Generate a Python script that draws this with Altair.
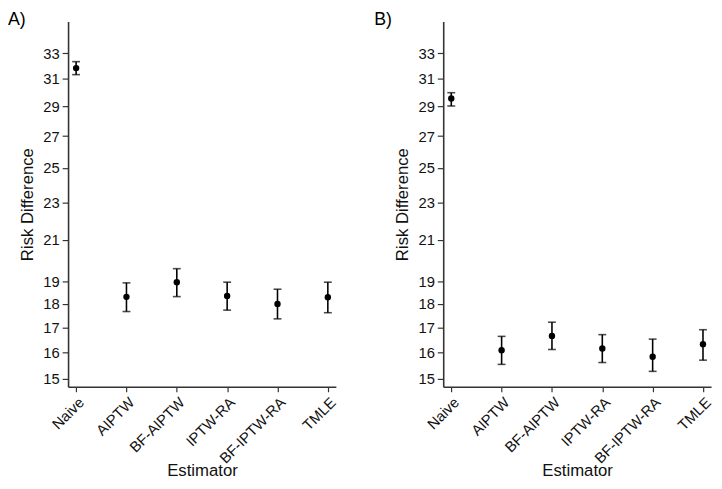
import altair as alt
import pandas as pd

estimators = ["Naive", "AIPTW", "BF-AIPTW", "IPTW-RA", "BF-IPTW-RA", "TMLE"]

a_est = [31.83, 18.30, 18.96, 18.34, 17.99, 18.28]
a_low = [31.33, 17.66, 18.31, 17.72, 17.35, 17.61]
a_high = [32.33, 18.93, 19.59, 18.96, 18.64, 18.96]

b_est = [29.57, 16.08, 16.65, 16.15, 15.83, 16.32]
b_low = [29.04, 15.54, 16.11, 15.61, 15.28, 15.70]
b_high = [29.99, 16.63, 17.21, 16.70, 16.52, 16.90]

y_ticks = [15, 16, 17, 18, 19, 21, 23, 25, 27, 29, 31, 33]
y_domain = [14.72, 35.63]

FONT = "Liberation Sans"
W, H = 272, 371


def panel(est, low, high, label, label_dx):
    df = pd.DataFrame({"Estimator": estimators, "est": est, "low": low, "high": high})
    x = alt.X(
        "Estimator:N",
        sort=estimators,
        scale=alt.Scale(type="point", padding=0.16),
        axis=alt.Axis(
            labelAngle=-45,
            title="Estimator",
            titleY=90,
            titleBaseline="alphabetic",
            labelPadding=3,
        ),
    )
    y_scale = alt.Scale(type="log", domain=y_domain, nice=False)
    y_axis = alt.Axis(
        values=y_ticks,
        title="Risk Difference",
        titleX=-36,
        titleY=H / 2,
        titleAlign="center",
        titleBaseline="alphabetic",
        labelPadding=3,
        tickSize=6,
    )
    base = alt.Chart(df)
    rule = base.mark_rule(color="black", strokeWidth=1.6).encode(
        x=x, y=alt.Y("low:Q", scale=y_scale, axis=y_axis), y2="high:Q"
    )
    cap_lo = base.mark_tick(color="black", size=8, thickness=1.6).encode(
        x=x, y=alt.Y("low:Q", scale=y_scale)
    )
    cap_hi = base.mark_tick(color="black", size=8, thickness=1.6).encode(
        x=x, y=alt.Y("high:Q", scale=y_scale)
    )
    pts = base.mark_point(filled=True, color="black", size=42, opacity=1).encode(
        x=x, y=alt.Y("est:Q", scale=y_scale)
    )
    lab = alt.Chart(pd.DataFrame({"t": [label]})).mark_text(
        align="left", baseline="top", fontSize=18, font=FONT, color="black"
    ).encode(x=alt.value(label_dx), y=alt.value(-10), text="t:N")
    return alt.layer(rule, cap_lo, cap_hi, pts, lab).properties(width=W, height=H)


chart = alt.hconcat(
    panel(a_est, a_low, a_high, "A)", -61),
    panel(b_est, b_low, b_high, "B)", -70),
    spacing=36,
).properties(
    padding={"left": 0, "top": 0, "right": 0, "bottom": 0}
).configure_view(stroke=None).configure_axis(
    grid=False,
    domainColor="#333333",
    domainWidth=1.6,
    tickColor="#333333",
    tickWidth=1.2,
    tickSize=5,
    labelFont=FONT,
    labelFontSize=15,
    labelColor="#111111",
    titleFont=FONT,
    titleFontSize=17,
    titleFontWeight="normal",
    titleColor="#111111",
)

chart.save("out.html", embed_options={"renderer": "svg", "actions": False})
